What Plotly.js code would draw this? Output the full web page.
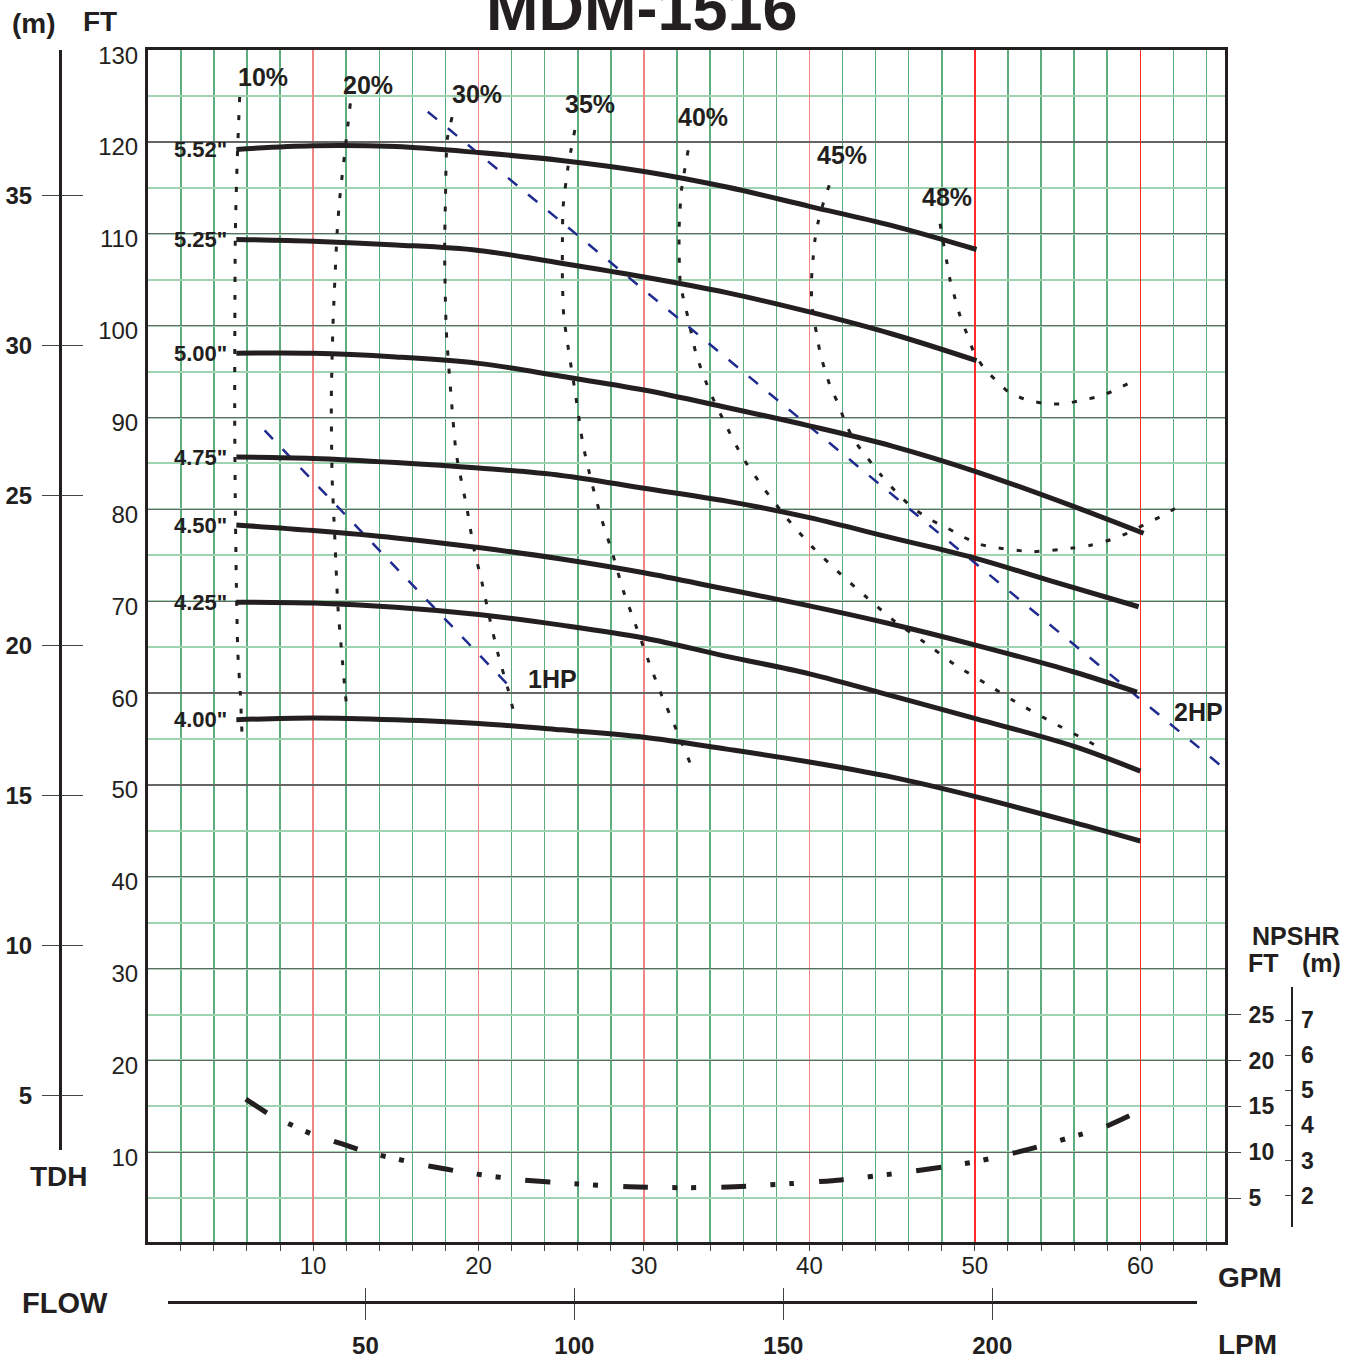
<!DOCTYPE html>
<html><head><meta charset="utf-8">
<script src="https://cdn.plot.ly/plotly-3.0.1.min.js"></script>
<style>html,body{margin:0;padding:0;background:#fff}#chart{width:1356px;height:1364px}</style>
</head><body><div id="chart"></div>
<script>
// ---------------- DATA ----------------
// Head curves (GPM vs FT) for each impeller diameter
const diaLabels = ['5.52"', '5.25"', '5.00"', '4.75"', '4.50"', '4.25"', '4.00"'];
const q552 = [5.36, 10, 15, 20, 25, 30, 35, 40, 45, 50.1];
const h552 = [119.2, 119.6, 119.5, 118.85, 118.0, 116.8, 115.1, 113.0, 110.9, 108.3];
const q525 = [5.36, 10, 15, 20, 25, 30, 35, 40, 45, 50.1];
const h525 = [109.4, 109.2, 108.8, 108.2, 106.8, 105.3, 103.6, 101.5, 99.1, 96.2];
const q500 = [5.36, 10, 15, 20, 25, 30, 35, 40, 45, 50.1, 56, 60.2];
const h500 = [97.0, 97.0, 96.6, 95.9, 94.5, 93.0, 91.1, 89.1, 86.9, 84.1, 80.3, 77.4];
const q475 = [5.36, 10, 15, 20, 25, 30, 35, 40, 45, 50, 55, 59.9];
const h475 = [85.7, 85.55, 85.1, 84.5, 83.7, 82.3, 80.9, 79.1, 76.9, 74.7, 72.0, 69.4];
const q450 = [5.36, 10, 15, 20, 25, 30, 35, 40, 45, 50.1, 56, 59.8];
const h450 = [78.3, 77.7, 76.9, 75.85, 74.6, 73.1, 71.3, 69.5, 67.5, 65.2, 62.3, 60.1];
const q425 = [5.36, 10, 15, 20, 25, 30, 35, 40, 45, 50.1, 56, 60];
const h425 = [69.9, 69.8, 69.35, 68.55, 67.4, 66.0, 64.0, 62.1, 59.7, 57.2, 54.2, 51.5];
const q400 = [5.36, 10, 15, 20, 25, 30, 35, 40, 45, 50.1, 56, 60];
const h400 = [57.1, 57.3, 57.1, 56.7, 56.0, 55.2, 53.9, 52.5, 50.85, 48.7, 45.9, 43.9];

// Iso-efficiency curves
const effLabels = ['10%', '20%', '30%', '35%', '40%', '45%', '48%'];
const effLabelQ = [6.95, 13.3, 19.89, 26.73, 33.56, 41.96, 48.31];
const effLabelH = [127.06, 126.19, 125.21, 124.12, 122.76, 118.62, 114.0];
const e10q = [5.56, 5.4, 5.3, 5.26, 5.3, 5.36, 5.45, 5.6, 5.7];
const e10h = [124.9, 117.3, 110.1, 90.3, 80.3, 72.0, 64.4, 60.0, 55.6];
const e20q = [12.25, 12.0, 11.6, 11.45, 11.2, 11.1, 11.15, 11.3, 11.5, 11.7, 12.0, 12.1];
const e20h = [124.2, 120.2, 113.7, 110.1, 100.0, 91.9, 83.5, 77.4, 69.4, 65.0, 59.05, 57.9];
const e30q = [18.4, 18.1, 18.0, 17.95, 18.05, 18.36, 18.65, 19.3, 19.7, 20.2, 20.7, 21.2, 21.8, 22.1];
const e30h = [122.7, 120.2, 113.7, 108.2, 99.5, 91.9, 86.1, 80.1, 75.9, 72.1, 67.9, 64.1, 60.3, 58.1];
const e35q = [25.82, 25.41, 25.11, 25.07, 25.07, 25.15, 25.47, 25.82, 26.32, 26.83, 27.43, 28.1, 28.74, 29.5, 30.25, 31.06, 31.96, 32.83];
const e35h = [121.3, 117.3, 112.9, 109.3, 105.0, 101.1, 97.0, 93.0, 87.0, 83.0, 79.0, 75.2, 71.2, 67.4, 63.6, 59.8, 56.0, 52.2];
const e40q = [32.67, 32.27, 32.12, 32.2, 32.67, 33.17, 33.94, 34.89, 35.95, 37.24, 38.61, 40.13, 41.74, 43.41, 45.16, 46.98, 48.79, 50.7, 52.6, 54.6, 56.6, 57.6];
const e40h = [119.1, 114.8, 110.4, 104.6, 100.8, 96.8, 93.0, 89.4, 85.7, 82.3, 79.1, 76.0, 73.2, 70.5, 67.8, 65.5, 63.1, 61.0, 58.9, 56.9, 55.0, 54.0];
const e45q = [41.2, 40.83, 40.53, 40.33, 40.22, 40.13, 40.13, 40.22, 40.43, 40.63, 40.93, 41.28, 41.74, 42.14, 42.64, 43.25, 44.3, 45.5, 46.3, 47.3, 48.3, 49.3, 50.3, 51.4, 53.5, 55.9, 57.0, 58.2, 59.2, 60.2, 61.2, 62.1];
const e45h = [115.3, 113.3, 111.3, 109.3, 107.3, 105.1, 103.1, 101.1, 99.2, 97.2, 95.2, 93.3, 91.5, 89.6, 87.7, 86.2, 83.8, 81.4, 80.1, 78.9, 78.0, 77.0, 76.2, 75.8, 75.4, 75.8, 76.1, 76.7, 77.4, 78.3, 79.2, 80.1];
const e48q = [47.9, 48.1, 48.3, 48.5, 48.8, 49.1, 49.5, 49.9, 50.5, 51.3, 52.1, 53.2, 54.3, 55.4, 56.5, 57.7, 58.7, 59.7];
const e48h = [111.1, 109.0, 107.0, 105.0, 103.0, 101.1, 99.2, 97.3, 95.5, 94.0, 92.7, 91.9, 91.5, 91.5, 91.9, 92.4, 93.2, 94.1];

// Horsepower limit lines
const hpLabels = ['1HP', '2HP'];
const hpLabelQ = [24.46, 63.52];
const hpLabelH = [61.53, 57.99];
const hp1q = [7.07, 22.1];
const hp1h = [88.6, 60.3];
const hp2q = [16.93, 64.8];
const hp2h = [123.3, 52.2];

// NPSHR curve (FT)
const npsQ = [5.93, 7.3, 8.9, 10.05, 11.8, 13.3, 15.0, 16.2, 18.1, 19.6, 22.6, 26.0, 29.1, 32.5, 35.5, 38.9, 41.9, 45.25, 48.4, 50.1, 51.6, 53.4, 56.3, 57.9, 59.6];
const npsH = [15.8, 14.2, 12.8, 11.9, 10.9, 10.0, 9.3, 8.8, 8.15, 7.7, 7.0, 6.55, 6.25, 6.15, 6.25, 6.6, 7.0, 7.7, 8.5, 9.0, 9.6, 10.4, 11.9, 12.8, 14.2];

// Tick values
const ftTicks = [10, 20, 30, 40, 50, 60, 70, 80, 90, 100, 110, 120, 130];
const mTicks = [5, 10, 15, 20, 25, 30, 35];
const gpmTicks = [10, 20, 30, 40, 50, 60];
const lpmTicks = [50, 100, 150, 200];
const npsFtTicks = [5, 10, 15, 20, 25];
const npsMTicks = [2, 3, 4, 5, 6, 7];

// ---------------- LAYOUT HELPERS ----------------
const W = 1356, H = 1364, ML = 30, MR = 20, MT = 10, MB = 10;
const PW = W - ML - MR, PH = H - MT - MB;
const px = x => (x - ML) / PW;
const py = y => (H - MB - y) / PH;
const F = 'Liberation Sans, Arial, Helvetica, sans-serif';
const INK = '#231f20';

const traces = [];
const effSets = [[e10q, e10h], [e20q, e20h], [e30q, e30h], [e35q, e35h], [e40q, e40h], [e45q, e45h], [e48q, e48h]];
effSets.forEach(s => traces.push({
  type: 'scatter', mode: 'lines', x: s[0], y: s[1],
  line: {color: INK, width: 3, dash: '5px,13px', shape: 'spline', smoothing: 0.6},
  hoverinfo: 'skip', showlegend: false
}));
[[hp1q, hp1h], [hp2q, hp2h]].forEach(s => traces.push({
  type: 'scatter', mode: 'lines', x: s[0], y: s[1],
  line: {color: '#1f2b8e', width: 2.5, dash: '12px,14px'},
  hoverinfo: 'skip', showlegend: false
}));
traces.push({
  type: 'scatter', mode: 'lines', x: npsQ, y: npsH,
  line: {color: INK, width: 5, dash: '25px,24px,5px,14px,5px,25px', shape: 'spline', smoothing: 0.6},
  hoverinfo: 'skip', showlegend: false
});
const headSets = [[q552, h552], [q525, h525], [q500, h500], [q475, h475], [q450, h450], [q425, h425], [q400, h400]];
headSets.forEach(s => traces.push({
  type: 'scatter', mode: 'lines', x: s[0], y: s[1],
  line: {color: INK, width: 5, shape: 'spline', smoothing: 1},
  hoverinfo: 'skip', showlegend: false
}));
// helper traces so that every decorative axis belongs to a subplot (invisible)
[['x3', 'y'], ['x', 'y3'], ['x4', 'y2'], ['x4', 'y5'], ['x4', 'y4'], ['x2', 'y6'], ['x5', 'y6']].forEach(p => traces.push({
  type: 'scatter', mode: 'markers', x: [-9999], y: [-9999], xaxis: p[0], yaxis: p[1],
  marker: {opacity: 0, size: 1}, hoverinfo: 'skip', showlegend: false
}));

const annotations = [];
function ann(text, x, y, size, extra) {
  annotations.push(Object.assign({
    text: text, x: x, y: y, xref: 'paper', yref: 'paper', showarrow: false,
    xanchor: 'center', yanchor: 'middle', font: {family: F, size: size, color: INK}
  }, extra || {}));
}
ann('<b>MDM-1516</b>', px(641.5), py(8), 63);
ann('<b>(m)</b>', px(33.5), py(23), 28);
ann('<b>FT</b>', px(100), py(22), 28);
ann('<b>TDH</b>', px(59), py(1176), 28);
ann('<b>FLOW</b>', px(64.5), py(1302.5), 29);
ann('<b>GPM</b>', px(1249.5), py(1277.5), 28);
ann('<b>LPM</b>', px(1247), py(1344), 28);
ann('<b>NPSHR</b>', px(1296), py(935.5), 25);
ann('<b>FT</b>', px(1263), py(963), 25);
ann('<b>(m)</b>', px(1321.7), py(963), 25);
// diameter labels, right-aligned just before each curve start
headSets.forEach((s, i) => annotations.push({
  text: '<b>' + diaLabels[i] + '</b>', x: s[0][0], y: s[1][0], xref: 'x', yref: 'y',
  xanchor: 'right', yanchor: 'middle', xshift: -7, showarrow: false,
  font: {family: F, size: 22, color: INK}
}));
effLabels.forEach((t, i) => annotations.push({
  text: '<b>' + t + '</b>', x: effLabelQ[i], y: effLabelH[i], xref: 'x', yref: 'y',
  xanchor: 'center', yanchor: 'middle', showarrow: false, font: {family: F, size: 25, color: INK}
}));
hpLabels.forEach((t, i) => annotations.push({
  text: '<b>' + t + '</b>', x: hpLabelQ[i], y: hpLabelH[i], xref: 'x', yref: 'y',
  xanchor: 'center', yanchor: 'middle', showarrow: false, font: {family: F, size: 25, color: INK}
}));

const xRange = [0.02, 65.12], yRange = [0.27, 130.02];
const layout = {
  width: W, height: H, margin: {l: ML, r: MR, t: MT, b: MB, pad: 0},
  paper_bgcolor: '#ffffff', plot_bgcolor: 'rgba(0,0,0,0)', showlegend: false, hovermode: false,
  font: {family: F, color: INK},
  xaxis: {
    domain: [px(148), px(1225)], range: xRange, tickmode: 'array', tickvals: gpmTicks, ticks: '',
    showgrid: true, gridcolor: '#f08585', gridwidth: 1.5, zeroline: false,
    minor: {tick0: 0, dtick: 2, showgrid: true, gridcolor: '#5dae7e', gridwidth: 1.5, ticks: 'outside', ticklen: 6, tickwidth: 1, tickcolor: '#444'},
    showline: true, mirror: true, linecolor: INK, linewidth: 3,
    tickfont: {family: F, size: 24, color: INK}, ticklabelstandoff: 0
  },
  yaxis: {
    domain: [py(1241.7), py(50)], range: yRange, tickmode: 'array', tickvals: ftTicks, ticks: '',
    showgrid: true, gridcolor: '#666666', gridwidth: 1.2, zeroline: false,
    minor: {tick0: 0, dtick: 5, showgrid: true, gridcolor: '#9fd3b2', gridwidth: 2},
    showline: true, mirror: true, linecolor: INK, linewidth: 3,
    tickfont: {family: F, size: 24, color: INK}, ticklabelstandoff: 2, ticklabelshift: 5
  },
  xaxis3: {
    overlaying: 'x', anchor: 'y', range: xRange, tickmode: 'array', tickvals: [50, 60],
    showticklabels: false, ticks: '', showgrid: true, gridcolor: '#ff2a2a', gridwidth: 1.5,
    zeroline: false, showline: false
  },
  yaxis3: {
    overlaying: 'y', anchor: 'x', side: 'right', range: yRange, tickmode: 'array', tickvals: npsFtTicks,
    ticks: 'outside', ticklen: 15, tickwidth: 1, tickcolor: '#444', showgrid: false, zeroline: false, showline: false,
    tickfont: {family: F, size: 23, color: INK, weight: 'bold'}, ticklabelstandoff: 3
  },
  yaxis2: {
    anchor: 'free', position: px(60), domain: [py(1150), py(50)], range: [3.18, 39.84],
    tickmode: 'array', tickvals: mTicks, ticks: 'outside', ticklen: 17, tickwidth: 1, tickcolor: '#444',
    showline: true, linewidth: 3, linecolor: INK, showgrid: false, zeroline: false,
    tickfont: {family: F, size: 24, color: INK, weight: 'bold'}, ticklabelstandoff: 5
  },
  yaxis5: {
    overlaying: 'y2', anchor: 'free', position: px(60), range: [3.18, 39.84],
    tickmode: 'array', tickvals: mTicks, ticks: 'inside', ticklen: 22, tickwidth: 1, tickcolor: '#444',
    showticklabels: false, showline: false, showgrid: false, zeroline: false
  },
  yaxis4: {
    anchor: 'free', position: px(1291), side: 'right', domain: [py(1227), py(987)], range: [1.109, 7.939],
    tickmode: 'array', tickvals: npsMTicks, ticks: 'inside', ticklen: 6, tickwidth: 1, tickcolor: '#444',
    showline: true, linewidth: 1.5, linecolor: INK, showgrid: false, zeroline: false,
    tickfont: {family: F, size: 23, color: INK, weight: 'bold'}, ticklabelstandoff: 4
  },
  xaxis2: {
    anchor: 'free', position: py(1302), domain: [px(168), px(1197)], range: [2.75, 249.0],
    tickmode: 'array', tickvals: lpmTicks, ticks: 'outside', ticklen: 16, tickwidth: 1, tickcolor: '#444',
    showline: true, linewidth: 3, linecolor: INK, showgrid: false, zeroline: false,
    tickfont: {family: F, size: 24, color: INK, weight: 'bold'}, ticklabelstandoff: 5
  },
  xaxis5: {
    overlaying: 'x2', anchor: 'free', position: py(1302), range: [2.75, 249.0],
    tickmode: 'array', tickvals: lpmTicks, ticks: 'inside', ticklen: 14, tickwidth: 1, tickcolor: '#444',
    showticklabels: false, showline: false, showgrid: false, zeroline: false
  },
  xaxis4: {visible: false, range: [0, 1], domain: [0, 1], anchor: 'y2'},
  yaxis6: {visible: false, range: [0, 1], domain: [0, 1], anchor: 'x2'},
  annotations: annotations
};

Plotly.newPlot('chart', traces, layout, {displayModeBar: false, staticPlot: true});
</script></body></html>
